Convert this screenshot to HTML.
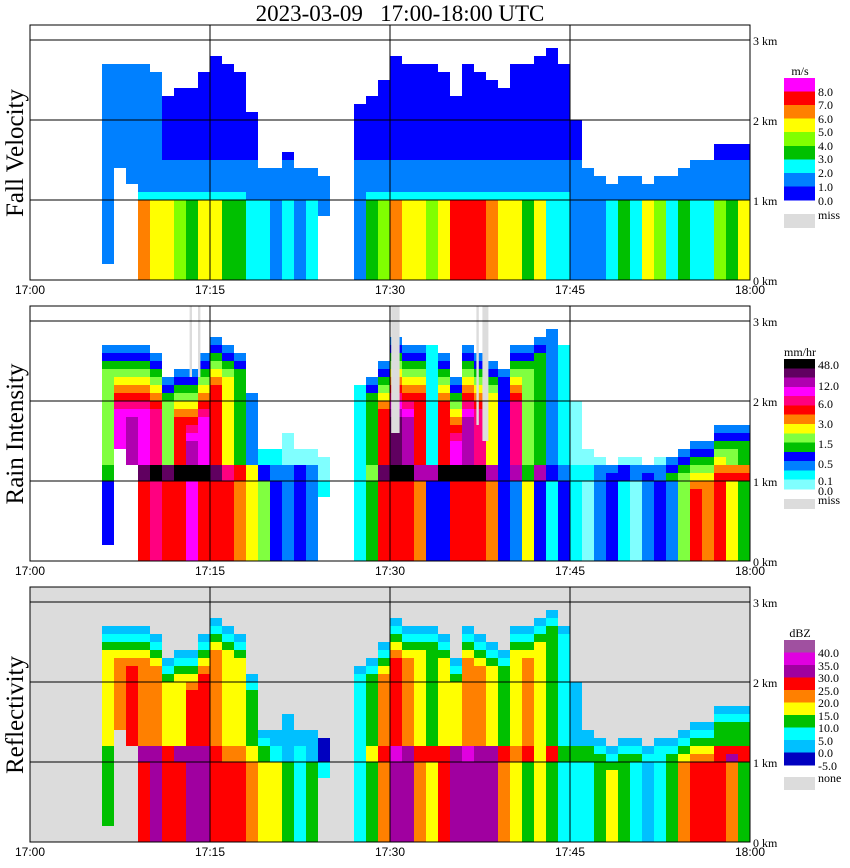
<!DOCTYPE html>
<html><head><meta charset="utf-8"><style>
html,body{margin:0;padding:0;background:#fff;}
svg{display:block;}
.lbl{font-family:"Liberation Serif",serif;font-size:12px;fill:#000;}
.tick{font-family:"Liberation Sans",sans-serif;font-size:12px;fill:#000;}
</style></head><body>
<svg id="chart" width="850" height="868" viewBox="0 0 850 868" xmlns="http://www.w3.org/2000/svg">
<text x="400" y="21" text-anchor="middle" font-family="Liberation Serif, serif" font-size="23" xml:space="preserve">2023-03-09   17:00-18:00 UTC</text>
<g id="panels"></g>
</svg>
<script>
// ---- data (per minute 17:00..17:59) ----
const minutes = [0,1,2,3,4,5,6,7,8,9,10,11,12,13,14,15,16,17,18,19,20,21,22,23,24,25,26,27,28,29,30,31,32,33,34,35,36,37,38,39,40,41,42,43,44,45,46,47,48,49,50,51,52,53,54,55,56,57,58,59];
const echoTop = [0,0,0,0,0,0,2.7,2.7,2.7,2.7, 2.6,2.3,2.4,2.4,2.6,2.8,2.7,2.6,2.1,1.4, 1.4,1.6,1.4,1.4,1.3,0,0,2.2,2.3,2.5, 2.8,2.7,2.7,2.7,2.6,2.3,2.7,2.6,2.5,2.4, 2.7,2.7,2.8,2.9,2.7,2.0,1.4,1.3,1.2,1.3, 1.3,1.2,1.3,1.3,1.4,1.5,1.5,1.7,1.7,1.7];
const echoBase = [0,0,0,0,0,0,0.2,1.4,1.2,0, 0,0,0,0,0,0,0,0,0,0, 0,0,0,0,0.8,0,0,0,0,0, 0,0,0,0,0,0,0,0,0,0, 0,0,0,0,0,0,0,0,0,0, 0,0,0,0,0,0,0,0,0,0];
// fall velocity classes
const fvLow = [0,0,0,0,0,0,1,0,0,6, 5,5,4,3,5,5,3,3,2,2, 1,2,1,2,1,0,0,1,3,4, 6,5,5,4,5,7,7,7,6,5, 5,3,5,2,2,1,1,1,2,3, 2,5,4,2,3,2,2,4,3,5];
const fvBand = [0,0,0,0,0,0,1,1,1,2, 2,2,2,2,2,2,2,2,1,1, 1,1,1,1,1,0,0,1,2,2, 2,2,2,2,2,2,2,2,2,2, 2,2,2,2,2,1,1,1,1,1, 1,1,1,1,1,1,1,1,1,1];
const fvUp = [0,0,0,0,0,0,1,1,1,1, 1,0,0,0,0,0,0,0,0,0, 0,0,0,0,0,0,0,0,0,0, 0,0,0,0,0,0,0,0,0,0, 0,0,0,0,0,0,0,0,0,0, 0,0,0,0,0,0,0,0,0,0];
// rain intensity classes
const rainLow = [0,0,0,0,0,0,3,0,0,8, 9,8,8,10,8,8,8,7,6,5, 3,2,3,2,1,0,0,1,4,8, 8,8,7,3,3,8,8,8,7,3, 2,6,3,1,3,1,0,2,3,1, 0,2,3,2,5,8,7,8,6,4];
const rainBand = [0,0,0,0,0,0,4,6,8,12, 13,12,13,13,13,12,9,8,6,3, 2,2,3,2,0,0,0,1,5,12, 13,13,11,11,13,13,13,13,11,3, 11,4,11,3,2,1,1,2,5,3, 2,4,2,5,11,12,11,12,12,10];
const rainUp = [0,0,0,0,0,0,5,10,11,10, 9,5,8,11,10,8,6,4,2,1, 1,0,0,0,0,0,0,1,4,8, 12,11,8,1,8,10,11,9,6,3, 9,5,4,2,1,0,0,0,0,0, 0,0,0,2,4,5,5,6,5,4];
const missStart = [13.3, 14.0, 30.1, 37.2, 37.7];
const missEnd = [13.5, 14.2, 30.8, 37.4, 38.2];
const missBottom = [2.3, 2.3, 1.6, 1.7, 1.5];
// reflectivity classes
const dbzLow = [0,0,0,0,0,0,3,0,0,6, 7,6,6,7,7,6,6,6,5,4, 4,3,2,3,2,0,0,2,3,5, 7,7,5,4,6,7,7,7,7,5, 4,3,4,3,2,2,2,3,4,3, 2,1,2,3,5,6,6,6,5,3];
const dbzBand = [0,0,0,0,0,0,3,3,4,7, 7,6,7,7,7,6,5,5,4,3, 2,1,2,1,0,0,0,2,4,6, 8,7,6,6,6,7,8,7,7,6, 5,6,4,6,3,3,3,3,3,3, 3,3,2,4,5,6,7,6,7,6];
const dbzUp = [0,0,0,0,0,0,4,5,6,5, 5,4,4,6,6,5,4,4,3,2, 1,1,1,1,0,0,0,2,3,5, 6,5,4,3,4,4,5,5,4,3, 4,5,4,3,2,1,1,1,1,1, 1,1,1,2,3,3,3,3,3,3];
// tick labels
const timeLabels = ["17:00","17:15","17:30","17:45","18:00"];
const timeTicks = [0,15,30,45,60];
const kmLabels = ["0 km","1 km","2 km","3 km"];
const kmTicks = [0,1,2,3];
const fvLegendLabels = ["8.0","7.0","6.0","5.0","4.0","3.0","2.0","1.0","0.0"];
const rainLegendLabels = ["48.0","12.0","6.0","3.0","1.5","0.5","0.1","0.0"];
const dbzLegendLabels = ["40.0","35.0","30.0","25.0","20.0","15.0","10.0","5.0","0.0","-5.0"];

const fvColors = ["#0000ff","#0080ff","#00ffff","#00c000","#80ff00","#ffff00","#ff8000","#ff0000","#ff00ff"];
const rainColors = ["#80ffff","#00ffff","#0080ff","#0000ff","#00c000","#80ff40","#ffff00","#ff8000","#ff0000","#ff0080","#ff00ff","#b000b0","#600060","#000000"];
const dbzColors = ["#0000c0","#00c0ff","#00ffff","#00c000","#ffff00","#ff8000","#ff0000","#a000a0","#e000e0","#a050a0"];

const NS = "http://www.w3.org/2000/svg";
const root = document.getElementById("panels");
function mk(tag, attrs, parent){ const e=document.createElementNS(NS,tag); for(const k in attrs) e.setAttribute(k,attrs[k]); (parent||root).appendChild(e); return e; }
const X0=30, PW=720, PX_PER_MIN=12, PX_PER_KM=80;
const xOf = m => X0 + m*PX_PER_MIN;

const panels = [
 {name:"fall-velocity", title:"Fall Velocity", bottom:280, bg:"#fff", colors:fvColors,
  cls:(i,r,h)=> r<10 ? fvLow[i] : (r<11 ? fvBand[i] : (r<15 ? 1 : fvUp[i])), fade:false},
 {name:"rain-intensity", title:"Rain Intensity", bottom:561, bg:"#fff", colors:rainColors,
  cls:(i,r,h)=> r<10 ? rainLow[i] : (r<12 ? rainBand[i] : rainUp[i]), fade:2},
 {name:"reflectivity", title:"Reflectivity", bottom:842, bg:"#dcdcdc", colors:dbzColors,
  cls:(i,r,h)=> r<10 ? dbzLow[i] : (r<12 ? dbzBand[i] : dbzUp[i]), fade:1}
];

panels.forEach((p,pi)=>{
  const yOf = km => p.bottom - km*PX_PER_KM;
  const top = p.bottom-255;
  const g = mk("g",{});
  
  
  const bg = mk("rect",{x:X0,y:top,width:PW,height:255,fill:p.bg},g);
  
  
  const cells = mk("g",{"shape-rendering":"crispEdges"},g);
  
  
  minutes.forEach((m,i)=>{
    const t = echoTop[i];
    for(let r=0;r<30;r++){
      const h = r/10;
      if(h >= t - 1e-9 || h < echoBase[i]-1e-9) continue;
      let c = p.cls(i,r,h);
      if(p.fade!==false){
        const d = t - (h+0.1);
        c = Math.min(c, p.fade + Math.floor(d/0.1+1e-6));
      }
      c = Math.max(0, Math.min(p.colors.length-1, c));
      const rc = mk("rect",{x:xOf(m),y:yOf(h+0.1),width:PX_PER_MIN,height:PX_PER_KM/10,fill:p.colors[c]},cells);
      
      
    }
  });
  if(pi===1){
    missStart.forEach((s,k)=>{
      const mr = mk("rect",{x:xOf(s),y:top,width:xOf(missEnd[k])-xOf(s),height:yOf(missBottom[k])-top,fill:"#dcdcdc"},g);
      
      
    });
  }
  kmTicks.slice(1).forEach(k=>{
    const l = mk("line",{x1:X0,x2:X0+PW,y1:yOf(k),y2:yOf(k),stroke:"#000","stroke-width":1,"shape-rendering":"crispEdges"},g);
    
    
  });
  timeTicks.slice(1,4).forEach(tm=>{
    const l = mk("line",{x1:xOf(tm),x2:xOf(tm),y1:top,y2:p.bottom,stroke:"#000","stroke-width":1,"shape-rendering":"crispEdges"},g);
    
    
  });
  const fr = mk("rect",{x:X0,y:top,width:PW,height:255,fill:"none",stroke:"#000","stroke-width":1,"shape-rendering":"crispEdges"},g);
  
  
  timeTicks.forEach((tm,k)=>{
    const tx = mk("text",{x:xOf(tm),y:p.bottom+14,"text-anchor":"middle",class:"tick"},g);
    tx.textContent = timeLabels[k];
    
    
  });
  kmTicks.forEach((k,j)=>{
    const tx = mk("text",{x:753,y:yOf(k)+5,class:"lbl"},g);
    tx.textContent = kmLabels[j];
    
    
  });
  const yt = mk("text",{x:0,y:0,"text-anchor":"middle","font-family":"Liberation Serif, serif","font-size":"25",transform:`translate(23,${top+128}) rotate(-90)`},g);
  yt.textContent = p.title;
  
  
});

function legend(name, colors, labels, unit, topY, botY, labelYs, missLabel, missY, missH){
  const g = mk("g",{"shape-rendering":"crispEdges"});
  
  
  const n = colors.length, bh = (botY-topY)/n;
  for(let k=0;k<n;k++){
    const r = mk("rect",{x:784,y:topY+k*bh,width:31,height:bh+0.5,fill:colors[n-1-k]},g);
    
    
  }
  const u = mk("text",{x:800,y:topY-3,"text-anchor":"middle",class:"lbl"},g);
  u.textContent = unit;
  
  
  labels.forEach((s,k)=>{
    const t = mk("text",{x:818,y:labelYs[k]+5,class:"lbl"},g);
    t.textContent = s;
    
    
  });
  const mr = mk("rect",{x:784,y:missY,width:31,height:missH,fill:"#dcdcdc"},g);
  
  
  const mt = mk("text",{x:818,y:missY+5,class:"lbl"},g);
  mt.textContent = missLabel;
  
  
}
legend("fall-velocity", fvColors, fvLegendLabels, "m/s", 78, 200, [91,104,118,131,145,158,172,186,200], "miss", 214, 14);
legend("rain-intensity", rainColors, rainLegendLabels, "mm/hr", 359, 489, [364,385,403,423,443,463,480,490], "miss", 499, 10);
legend("reflectivity", dbzColors, dbzLegendLabels, "dBZ", 640, 765, [652,665,677,690,702,715,727,740,752,765], "none", 777, 13);
</script>
</body></html>
